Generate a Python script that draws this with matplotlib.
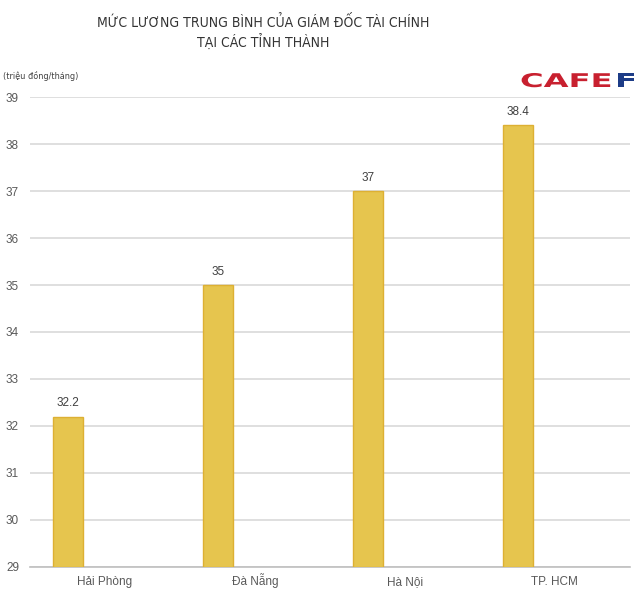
import matplotlib
matplotlib.use('Agg')
import matplotlib.pyplot as plt
import numpy as np
from matplotlib.textpath import TextPath
from matplotlib.patches import PathPatch
from matplotlib.font_manager import FontProperties
from matplotlib.transforms import Affine2D, IdentityTransform

cities = ['Hải Phòng', 'Đà Nẵng', 'Hà Nội', 'TP. HCM']
salary = [32.2, 35, 37, 38.4]
yticks = list(range(29, 40))

plt.rcParams['font.family'] = ['Liberation Sans', 'DejaVu Sans']

fig = plt.figure(figsize=(6.4, 5.96), dpi=100)
ax = fig.add_axes([0.047, 0.049, 0.937, 0.788])

x = np.arange(len(cities))
ax.bar(x - 0.247, np.array(salary) - 29, bottom=29, width=0.2,
       color='#E6C54E', edgecolor='#DDB033', linewidth=1.0, zorder=3)

for xi, v in zip(x, salary):
    ax.text(xi - 0.247, v + 0.15, f'{v:g}', ha='center', va='bottom',
            fontsize=8.5, color='#404040')

ax.set_xlim(-0.5, len(cities) - 0.5)
ax.set_ylim(29, 39)
ax.set_yticks(yticks)
ax.set_xticks(x)
ax.set_xticklabels(cities)
ax.tick_params(axis='both', length=0, labelsize=8.5, colors='#595959')
ax.tick_params(axis='x', pad=13)
ax.tick_params(axis='y', pad=8)
for lbl in ax.get_xticklabels():
    lbl.set_verticalalignment('baseline')
ax.grid(axis='y', color='#D9D9D9', linewidth=1.2, zorder=0)
for s in ['top', 'right', 'left']:
    ax.spines[s].set_visible(False)
ax.spines['bottom'].set_color('#BFBFBF')
ax.spines['bottom'].set_linewidth(1.2)

title_font = dict(family='DejaVu Sans', stretch='condensed', weight='light')
fig.text(0.411, 0.963, 'MỨC LƯƠNG TRUNG BÌNH CỦA GIÁM ĐỐC TÀI CHÍNH',
         ha='center', va='center', fontsize=10, color='#333333', **title_font)
fig.text(0.411, 0.929, 'TẠI CÁC TỈNH THÀNH',
         ha='center', va='center', fontsize=10, color='#333333', **title_font)
fig.text(0.005, 0.873, '(triệu đồng/tháng)', ha='left', va='center',
         fontsize=6.5, color='#404040', family='DejaVu Sans', stretch='condensed')

# CAFEF logo, stretched wide like the original
logo_prop = FontProperties(family='DejaVu Sans', weight='bold')
p1 = TextPath((0, 0), 'CAFE', size=14, prop=logo_prop)
p2 = TextPath((0, 0), 'F', size=14, prop=logo_prop)
sx, sy = 2.3, 1.35
ypix = 596 - 87
tr1 = Affine2D().scale(sx, sy).translate(520, ypix) + IdentityTransform()
tr2 = Affine2D().scale(sx, sy).translate(615, ypix) + IdentityTransform()
fig.patches.append(PathPatch(p1, transform=tr1, color='#C8202F', lw=0, figure=fig))
fig.patches.append(PathPatch(p2, transform=tr2, color='#1D3C87', lw=0, figure=fig))

fig.savefig('out.png', dpi=100)
